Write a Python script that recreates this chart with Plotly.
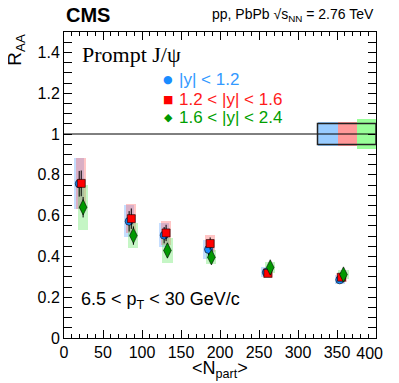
import plotly.graph_objects as go

# <Npart> per centrality bin, slightly shifted per rapidity bin
npart_mid = [19.5, 83.5, 128.4, 185.3, 259.4, 353.5]
npart_fwd1 = [22.1, 86.3, 130.9, 187.4, 261.4, 355.8]
npart_fwd2 = [24.5, 89.0, 132.6, 189.0, 264.4, 358.3]

raa_mid = [0.756, 0.572, 0.504, 0.434, 0.322, 0.285]
raa_fwd1 = [0.758, 0.585, 0.515, 0.463, 0.317, 0.298]
raa_fwd2 = [0.641, 0.502, 0.429, 0.396, 0.346, 0.311]

stat_mid = [0.063, 0.05, 0.04, 0.03, 0.015, 0.012]
stat_fwd1 = [0.063, 0.05, 0.04, 0.03, 0.015, 0.012]
stat_fwd2 = [0.05, 0.045, 0.035, 0.025, 0.015, 0.012]

syst_mid = [0.125, 0.078, 0.06, 0.045, 0.025, 0.022]
syst_fwd1 = [0.125, 0.07, 0.06, 0.04, 0.025, 0.022]
syst_fwd2 = [0.11, 0.063, 0.062, 0.035, 0.025, 0.022]

# global uncertainties drawn at R_AA = 1
glob_x = [338.5, 363.5, 388.0]
glob_w = [25, 25, 24]
glob_unc = [0.061, 0.061, 0.074]
pp_unc = 0.051

x_ticks = [0, 50, 100, 150, 200, 250, 300, 350]
x_last_tick = 400

labels = ["|y| < 1.2", "1.2 < |y| < 1.6", "1.6 < |y| < 2.4"]
marker_colors = ["#1a8cff", "#ff0000", "#009900"]
text_colors = ["#3399ff", "#ff1a1a", "#00a000"]
box_colors = ["rgba(90,160,255,0.35)", "rgba(255,90,90,0.35)", "rgba(90,230,90,0.35)"]
glob_colors = ["#99ccff", "#ff9999", "#99ff99"]
symbols = ["circle", "square", "diamond-tall"]
legend_glyphs = ["●", "■", "◆"]
msizes = [8, 8, 11]

series = [
    (npart_mid, raa_mid, stat_mid, syst_mid),
    (npart_fwd1, raa_fwd1, stat_fwd1, syst_fwd1),
    (npart_fwd2, raa_fwd2, stat_fwd2, syst_fwd2),
]

FONT = "Liberation Sans, Arial, sans-serif"

fig = go.Figure()

# global uncertainty boxes (on the overlay axis that carries the last tick label)
for i in range(3):
    fig.add_trace(go.Bar(
        x=[glob_x[i]], y=[2 * glob_unc[i]], base=[1 - glob_unc[i]],
        width=[glob_w[i]], marker=dict(color=glob_colors[i], line_width=0),
        showlegend=False, hoverinfo="skip", xaxis="x2",
    ))

# systematic boxes
for i, (x, y, st, sy) in enumerate(series):
    fig.add_trace(go.Bar(
        x=x, y=[2 * s for s in sy], base=[v - s for v, s in zip(y, sy)],
        width=13, marker=dict(color=box_colors[i], line_width=0),
        showlegend=False, hoverinfo="skip",
    ))

# points with statistical errors
for i, (x, y, st, sy) in enumerate(series):
    fig.add_trace(go.Scatter(
        x=x, y=y, mode="markers", name=labels[i], showlegend=False,
        marker=dict(symbol=symbols[i], size=msizes[i], color=marker_colors[i],
                    line=dict(color="black", width=0.6)),
        error_y=dict(type="data", array=st, color="black", thickness=1, width=0),
    ))

fig.add_shape(type="line", x0=0, x1=400, y0=1, y1=1, xref="x", yref="y",
              line=dict(color="black", width=1))
fig.add_shape(type="rect", x0=325, x1=400, y0=1 - pp_unc, y1=1 + pp_unc,
              xref="x", yref="y", line=dict(color="#222222", width=1.5))

axis_common = dict(
    showline=True, linecolor="black", linewidth=1, mirror="allticks",
    ticks="inside", ticklen=8, tickcolor="black", showgrid=False, zeroline=False,
    tickfont=dict(family=FONT, size=16, color="black"),
)
fig.update_xaxes(range=[0, 400], tickvals=x_ticks + [x_last_tick],
                 ticktext=[str(v) for v in x_ticks] + [""],
                 minor=dict(ticks="inside", ticklen=4, dtick=10, tickcolor="black"),
                 **axis_common)
fig.update_yaxes(range=[0, 1.5], dtick=0.2, tick0=0,
                 minor=dict(ticks="inside", ticklen=4, dtick=0.05, tickcolor="black"),
                 **axis_common)
# last x label pulled in so it stays inside the page
fig.update_layout(xaxis2=dict(
    overlaying="x", side="bottom", range=[0, 400], tickvals=[x_last_tick],
    ticktext=[str(x_last_tick)], ticks="", showline=False, showgrid=False,
    zeroline=False, ticklabelposition="outside left", ticklabelshift=7,
    ticklabelstandoff=4,
    tickfont=dict(family=FONT, size=16, color="black"),
))

anns = [
    dict(text="<b>CMS</b>", x=0.0, y=1.055, xanchor="left", yanchor="middle",
         font=dict(family=FONT, size=20)),
    dict(text="pp, PbPb √s<sub>NN</sub> = 2.76 TeV", x=1.0, y=1.055,
         xanchor="right", yanchor="middle", font=dict(family=FONT, size=14)),
    dict(text="Prompt J/ψ", x=0.05, y=0.925, xanchor="left", yanchor="middle",
         font=dict(family="Liberation Serif, Times New Roman, serif", size=22)),
    dict(text="6.5 < p<sub>T</sub> < 30 GeV/c", x=0.048, y=0.123, xanchor="left",
         yanchor="middle", font=dict(family=FONT, size=18)),
    dict(text="<N<sub>part</sub>>", x=0.5, y=-0.06, xanchor="center", yanchor="top",
         font=dict(family=FONT, size=18)),
    dict(text="R<sub>AA</sub>", x=-0.155, y=1.0, xanchor="center", yanchor="top",
         textangle=-90, font=dict(family=FONT, size=19)),
]
leg_y = [0.845, 0.781, 0.719]
for i in range(3):
    anns.append(dict(text=legend_glyphs[i], x=0.334, y=leg_y[i], xanchor="center",
                     yanchor="middle", font=dict(family="DejaVu Sans", size=11,
                                                 color=marker_colors[i])))
    anns.append(dict(text=labels[i], x=0.362, y=leg_y[i], xanchor="left",
                     yanchor="middle", font=dict(family=FONT, size=17,
                                                 color=text_colors[i])))
for a in anns:
    a["font"].setdefault("color", "black")
    fig.add_annotation(xref="paper", yref="paper", showarrow=False, **a)

# the page puts the figure 8 px in from the corner, so size it to fit
fig.update_layout(
    width=383, height=383,
    margin=dict(l=56, r=8, t=24, b=53),
    barmode="overlay", bargap=0,
    plot_bgcolor="white", paper_bgcolor="white",
    showlegend=False,
)

fig.write_html("out.html", config={"displayModeBar": False})
